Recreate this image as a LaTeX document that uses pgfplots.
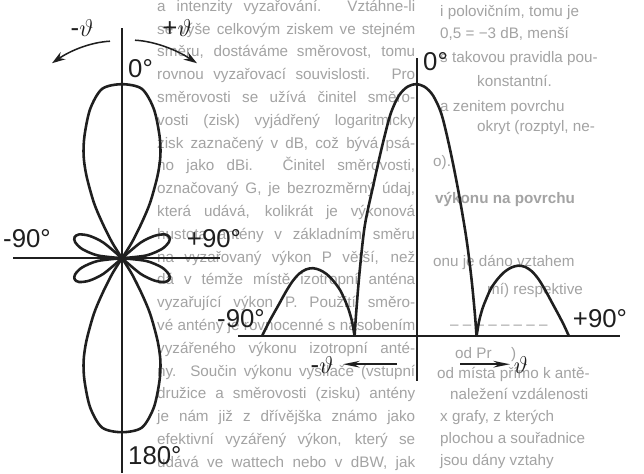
\documentclass[border=0pt]{standalone}
\usepackage{fontspec}
\setmainfont{Liberation Sans}
\usepackage{pgfplots}
\pgfplotsset{compat=1.18}
\usepackage{pgfplotstable}
\usetikzlibrary{arrows.meta}

% background page text (faint), px units
\newcommand\jl[2]{\node[anchor=base west,inner sep=0pt] at (157,#1) {\makebox[77.4mm][s]{#2}};}
\newcommand\bl[3]{\node[anchor=base west,inner sep=0pt] at (#1,#2) {#3};}

% polar pattern, angle from main direction (deg), relative radius
\pgfplotstableread{
t r
-34.5 0
-32 0.108
-29 0.237
-26.8 0.36
-23.3 0.517
-20.5 0.63
-17 0.737
-12 0.878
-6.7 0.98
0 1
6.7 0.98
12 0.878
17 0.737
20.5 0.63
23.3 0.517
26.8 0.36
29 0.237
32 0.108
34.5 0
}\polmain
\pgfplotstableread{
t r
44 0
50 0.139
55.5 0.227
61 0.282
66 0.298
71 0.285
77 0.235
83.5 0.14
90 0
}\polside

% rectangular pattern
\pgfplotstableread{
t r
-36 0
-35 0.10
-33 0.26
-30 0.44
-25 0.60
-20 0.75
-15 0.88
-10 0.955
-5 0.99
0 1
5 0.99
10 0.955
15 0.88
20 0.74
25 0.57
29.5 0.39
32.5 0.23
34.5 0.09
35.5 0
}\recmain
\pgfplotstableread{
t r
-90.3 0
-87.5 0.039
-84.5 0.077
-80.5 0.125
-76.5 0.174
-72.5 0.217
-68.5 0.248
-64.5 0.265
-60.5 0.270
-56.5 0.263
-52.5 0.247
-48.5 0.220
-44.5 0.183
-41.5 0.140
-39.5 0.106
-37.5 0.058
-36 0
}\recleft
\pgfplotstableread{
t r
35.5 0
37 0.06
39 0.11
41 0.145
44 0.19
48 0.228
52 0.256
56 0.273
60 0.280
64 0.275
68 0.257
72 0.225
76 0.180
80 0.130
84 0.080
87 0.040
89.7 0
}\recright

\pgfplotsset{
  lobe/.style={smooth, no markers, line width=2.2pt, black!88},
}
% polar lobe drawn at direction #1 #2 t (90 = up)
\newcommand\plobe[3]{\addplot[lobe] table[
  x expr={\thisrow{r}*cos(#1#2\thisrow{t})},
  y expr={\thisrow{r}*sin(#1#2\thisrow{t})}] {#3};}

\begin{document}
\begin{tikzpicture}
\begin{scope}[x=0.3mm,y=-0.3mm]
\path[fill=white] (0,0) rectangle (644,472);
\begin{scope}[black!36, font=\fontsize{13}{16}\selectfont]
\jl{10}{a intenzity vyzařování. Vztáhne-li}
\jl{32.8}{se výše celkovým ziskem ve stejném}
\jl{55.6}{směru, dostáváme směrovost, tomu}
\jl{78.4}{rovnou vyzařovací souvislosti. Pro}
\jl{101.2}{směrovosti se užívá činitel směro-}
\jl{124}{vosti (zisk) vyjádřený logaritmicky}
\jl{146.8}{zisk zaznačený v dB, což bývá psá-}
\jl{169.6}{no jako dBi. Činitel směrovosti,}
\jl{192.4}{označovaný G, je bezrozměrný údaj,}
\jl{215.2}{která udává, kolikrát je výkonová}
\jl{238}{hustota antény v základním směru}
\jl{260.8}{na vyzařovaný výkon P větší, než}
\jl{283.6}{dá v témže místě izotropní anténa}
\jl{306.4}{vyzařující výkon P. Použití směro-}
\jl{329.2}{vé antény je rovnocenné s násobením}
\jl{352}{vyzářeného výkonu izotropní anté-}
\jl{374.8}{ny. Součin výkonu vysílače (vstupní}
\jl{397.6}{družice a směrovosti (zisku) antény}
\jl{420.4}{je nám již z dřívějška známo jako}
\jl{443.2}{efektivní vyzářený výkon, který se}
\jl{466}{udává ve wattech nebo v dBW, jak}
\bl{440}{15}{i polovičním, tomu je}
\bl{440}{37}{0,5 = −3 dB, menší}
\bl{440}{61}{s takovou pravidla pou-}
\bl{477}{85}{konstantní.}
\bl{440}{110}{a zenitem povrchu}
\bl{477}{130}{okryt (rozptyl, ne-}
\bl{433}{165}{o).}
\bl{435}{202}{\bfseries výkonu na povrchu}
\bl{433}{265}{onu je dáno vztahem}
\bl{487}{293}{mí) respektive}
\bl{450}{328}{– – – – – – – –}
\bl{455}{357}{od Pr \quad )}
\bl{437}{377}{od místa přímo k antě-}
\bl{450}{398}{naležení vzdálenosti}
\bl{440}{420}{x grafy, z kterých}
\bl{440}{442}{plochou a souřadnice}
\bl{440}{464}{jsou dány vztahy}
\end{scope}
\end{scope}

% polar diagram, 1 unit = 174 px
\begin{axis}[at={(0mm,-141.6mm)}, anchor=south west,
  x=52.2mm, y=52.2mm, xmin=-0.70115, xmax=0.62069,
  ymin=-1.23563, ymax=1.47701, hide axis, clip=false]
  \draw[line width=1.4pt, black!88] (axis cs:-0.626,0) -- (axis cs:0.563,0);
  \draw[line width=1.3pt, black!88] (axis cs:0,1.3218) -- (axis cs:0,-1.2356);
  \plobe{90}{-}{\polmain}
  \plobe{270}{-}{\polmain}
  \plobe{90}{-}{\polside}
  \plobe{90}{+}{\polside}
  \plobe{270}{-}{\polside}
  \plobe{270}{+}{\polside}
\end{axis}

% rectangular diagram, 1 deg = 1.7056 px, 1 unit = 252 px
\begin{axis}[at={(69mm,-141.6mm)}, anchor=south west,
  x=0.51168mm, y=75.6mm, xmin=-109.05, xmax=133.68,
  ymin=-0.54365, ymax=1.32937, hide axis, clip=false]
  \draw[line width=1.4pt, black!88] (axis cs:-104.4,0) -- (axis cs:119.6,0);
  \draw[line width=1.3pt, black!88] (axis cs:0.5,1.103) -- (axis cs:0.5,-0.179);
  \addplot[lobe] table[x=t, y=r] {\recmain};
  \addplot[lobe] table[x=t, y=r] {\recleft};
  \addplot[lobe] table[x=t, y=r] {\recright};
\end{axis}

% labels and arrows
\begin{scope}[x=0.3mm,y=-0.3mm, black!88, font=\fontsize{22}{26}\selectfont]
\node[inner sep=0pt] at (27,237) {-90°};
\node[inner sep=0pt] at (214,237) {+90°};
\node[inner sep=0pt, anchor=west] at (128,67) {0°};
\node[inner sep=0pt, anchor=west] at (128,454) {180°};
\node[inner sep=0pt, anchor=west] at (423,60) {0°};
\node[inner sep=0pt] at (241,317) {-90°};
\node[inner sep=0pt] at (600,317) {+90°};
\node[inner sep=0pt] at (82,27) {-$\vartheta$};
\node[inner sep=0pt] at (177,27) {+$\vartheta$};
\node[inner sep=0pt] at (322,364) {-$\vartheta$};
\node[inner sep=0pt] at (521,364) {$\vartheta$};
\draw[line width=1.3pt, -{Stealth[length=4mm,width=2.6mm]}]
  (110,40) .. controls (91,41) and (71,49) .. (52,62);
\draw[line width=1.3pt, -{Stealth[length=4mm,width=2.6mm]}]
  (135,39) .. controls (155,40) and (177,49) .. (197,62);
\draw[line width=1.5pt, -{Stealth[length=5mm,width=2mm]}] (397,363) -- (343,363);
\draw[line width=1.5pt, -{Stealth[length=5mm,width=2mm]}] (460,363) -- (510,363);
\path[use as bounding box] (0,0) rectangle (644,472);
\end{scope}
\end{tikzpicture}
\end{document}
